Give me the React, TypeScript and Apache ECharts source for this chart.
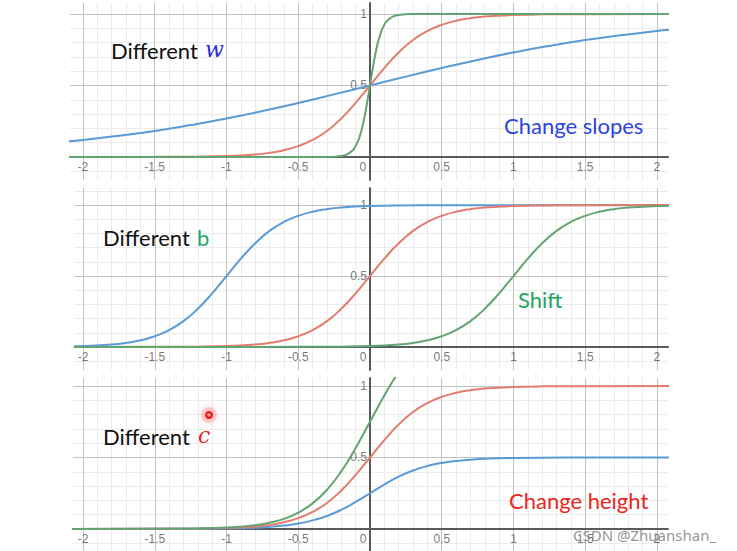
import { useEffect, useRef } from 'react';
import * as echarts from 'echarts';

// Axis tick labels
const xTickLabels = [-2, -1.5, -1, -0.5, 0, 0.5, 1, 1.5, 2];
const yTickLabels = [0.5, 1];
// Grid lines (major every 0.5, minor every 0.1)
const xMajor = [-2, -1.5, -1, -0.5, 0.5, 1, 1.5, 2];
const yMajor = [0.5, 1];
const xMinor = [-1.9, -1.8, -1.7, -1.6, -1.4, -1.3, -1.2, -1.1, -0.9, -0.8, -0.7, -0.6, -0.4, -0.3, -0.2, -0.1,
  0.1, 0.2, 0.3, 0.4, 0.6, 0.7, 0.8, 0.9, 1.1, 1.2, 1.3, 1.4, 1.6, 1.7, 1.8, 1.9];
const yMinor = [-0.1, 0.1, 0.2, 0.3, 0.4, 0.6, 0.7, 0.8, 0.9, 1.1];

// Panel 1: different w
const p1Blue: [number, number][] = [[-2.1, 0.109], [-2, 0.119], [-1.75, 0.148], [-1.5, 0.182], [-1.25, 0.223], [-1, 0.269], [-0.75, 0.321], [-0.5, 0.378], [-0.25, 0.438], [0, 0.5], [0.25, 0.562], [0.5, 0.622], [0.75, 0.679], [1, 0.731], [1.25, 0.777], [1.5, 0.818], [1.75, 0.852], [2, 0.881], [2.1, 0.891]];
const p1Red: [number, number][] = [[-2.1, 0], [-1.5, 0.001], [-1.2, 0.0025], [-1, 0.0067], [-0.8, 0.018], [-0.7, 0.029], [-0.6, 0.047], [-0.5, 0.076], [-0.4, 0.119], [-0.3, 0.182], [-0.2, 0.269], [-0.1, 0.378], [0, 0.5], [0.1, 0.622], [0.2, 0.731], [0.3, 0.818], [0.4, 0.881], [0.5, 0.924], [0.6, 0.953], [0.7, 0.971], [0.8, 0.982], [1, 0.993], [1.2, 0.9975], [1.5, 0.999], [2.1, 1]];
const p1Green: [number, number][] = [[-2.1, 0], [-0.4, 0], [-0.3, 0.0006], [-0.24, 0.0025], [-0.2, 0.0067], [-0.16, 0.018], [-0.12, 0.047], [-0.1, 0.076], [-0.08, 0.119], [-0.06, 0.182], [-0.04, 0.269], [-0.02, 0.378], [0, 0.5], [0.02, 0.622], [0.04, 0.731], [0.06, 0.818], [0.08, 0.881], [0.1, 0.924], [0.12, 0.953], [0.16, 0.982], [0.2, 0.993], [0.24, 0.9975], [0.3, 0.9994], [0.4, 1], [2.1, 1]];

// Panel 2: different b
const p2Blue: [number, number][] = [[-2.1, 0.004], [-2, 0.0067], [-1.8, 0.018], [-1.7, 0.029], [-1.6, 0.047], [-1.5, 0.076], [-1.4, 0.119], [-1.3, 0.182], [-1.2, 0.269], [-1.1, 0.378], [-1, 0.5], [-0.9, 0.622], [-0.8, 0.731], [-0.7, 0.818], [-0.6, 0.881], [-0.5, 0.924], [-0.4, 0.953], [-0.3, 0.971], [-0.2, 0.982], [0, 0.993], [0.2, 0.9975], [0.5, 0.999], [2.1, 1]];
const p2Red: [number, number][] = [[-2.1, 0], [-1.5, 0.001], [-1.2, 0.0025], [-1, 0.0067], [-0.8, 0.018], [-0.7, 0.029], [-0.6, 0.047], [-0.5, 0.076], [-0.4, 0.119], [-0.3, 0.182], [-0.2, 0.269], [-0.1, 0.378], [0, 0.5], [0.1, 0.622], [0.2, 0.731], [0.3, 0.818], [0.4, 0.881], [0.5, 0.924], [0.6, 0.953], [0.7, 0.971], [0.8, 0.982], [1, 0.993], [1.2, 0.9975], [1.5, 0.999], [2.1, 1]];
const p2Green: [number, number][] = [[-2.1, 0], [-0.5, 0.001], [-0.2, 0.0025], [0, 0.0067], [0.2, 0.018], [0.3, 0.029], [0.4, 0.047], [0.5, 0.076], [0.6, 0.119], [0.7, 0.182], [0.8, 0.269], [0.9, 0.378], [1, 0.5], [1.1, 0.622], [1.2, 0.731], [1.3, 0.818], [1.4, 0.881], [1.5, 0.924], [1.6, 0.953], [1.7, 0.971], [1.8, 0.982], [2, 0.993], [2.1, 0.996]];

// Panel 3: different c
const p3Blue: [number, number][] = [[-2.1, 0], [-1.2, 0.001], [-1, 0.0034], [-0.8, 0.009], [-0.7, 0.015], [-0.6, 0.024], [-0.5, 0.038], [-0.4, 0.06], [-0.3, 0.091], [-0.2, 0.134], [-0.1, 0.189], [0, 0.25], [0.1, 0.311], [0.2, 0.366], [0.3, 0.409], [0.4, 0.44], [0.5, 0.462], [0.6, 0.476], [0.7, 0.485], [0.8, 0.491], [1, 0.4966], [1.2, 0.499], [1.5, 0.4995], [2.1, 0.5]];
const p3Red: [number, number][] = [[-2.1, 0], [-1.5, 0.001], [-1.2, 0.0025], [-1, 0.0067], [-0.8, 0.018], [-0.7, 0.029], [-0.6, 0.047], [-0.5, 0.076], [-0.4, 0.119], [-0.3, 0.182], [-0.2, 0.269], [-0.1, 0.378], [0, 0.5], [0.1, 0.622], [0.2, 0.731], [0.3, 0.818], [0.4, 0.881], [0.5, 0.924], [0.6, 0.953], [0.7, 0.971], [0.8, 0.982], [1, 0.993], [1.2, 0.9975], [1.5, 0.999], [2.1, 1]];
const p3Green: [number, number][] = [[-2.1, 0], [-1.2, 0.004], [-1, 0.01], [-0.8, 0.027], [-0.7, 0.044], [-0.6, 0.071], [-0.5, 0.114], [-0.4, 0.179], [-0.3, 0.274], [-0.2, 0.403], [-0.1, 0.566], [0, 0.75], [0.1, 0.934], [0.2, 1.097], [0.3, 1.226]];

const BLUE = '#5b9bd5';
const RED = '#e27d6e';
const GREEN = '#62a472';

// Panel layout (pixels) and axis extents
const panels = [
  { left: 70, top: 3, width: 598, height: 177, xMin: -2.09, xMax: 2.077, yMin: -0.161, yMax: 1.077, curves: [p1Blue, p1Red, p1Green] },
  { left: 75, top: 188, width: 593, height: 182, xMin: -2.056, xMax: 2.077, yMin: -0.162, yMax: 1.12, curves: [p2Blue, p2Red, p2Green] },
  { left: 73, top: 378, width: 595, height: 173, xMin: -2.07, xMax: 2.077, yMin: -0.154, yMax: 1.056, curves: [p3Blue, p3Red, p3Green] },
];

export default function App() {
  const ref = useRef<HTMLDivElement>(null);
  useEffect(() => {
    if (!ref.current) return;
    const chart = echarts.init(ref.current, undefined, { renderer: 'svg' });
    const inside = (v: number, lo: number, hi: number) => v > lo + 0.015 && v < hi - 0.015;
    const labelStyle = { color: '#555', fontSize: 12, fontFamily: 'Liberation Sans, Arial, sans-serif' };
    const series: any[] = [];
    panels.forEach((p, i) => {
      const mk = (xs: number[], ys: number[], color: string) => ({
        type: 'line', xAxisIndex: i, yAxisIndex: i, data: [], silent: true, z: 1,
        markLine: {
          silent: true, symbol: ['none', 'none'], animation: false, z: 1,
          label: { show: false },
          emphasis: { disabled: true },
          lineStyle: { color, width: 1, type: 'solid' },
          data: [
            ...xs.filter((v) => inside(v, p.xMin, p.xMax)).map((v) => ({ xAxis: v })),
            ...ys.filter((v) => inside(v, p.yMin, p.yMax)).map((v) => ({ yAxis: v })),
          ],
        },
      });
      series.push(mk(xMinor, yMinor, '#ebebeb'));
      series.push(mk(xMajor, yMajor, '#c2c2c2'));
      // tick labels placed on the axes through the panel's scales
      series.push({
        type: 'scatter', xAxisIndex: i, yAxisIndex: i, symbolSize: 0, silent: true, z: 2,
        data: xTickLabels.map((v) => ({ value: [v, 0], label: v === 0 ? { offset: [-7, 0] } : {} })),
        label: { show: true, position: 'bottom', distance: 4, ...labelStyle, formatter: (d: any) => String(d.value[0]) },
      });
      series.push({
        type: 'scatter', xAxisIndex: i, yAxisIndex: i, symbolSize: 0, silent: true, z: 2,
        data: yTickLabels.map((v) => [0, v]),
        label: { show: true, position: 'left', distance: 3, ...labelStyle, formatter: (d: any) => String(d.value[1]) },
      });
      [BLUE, RED, GREEN].forEach((c, k) => {
        series.push({
          type: 'line', xAxisIndex: i, yAxisIndex: i, data: p.curves[k], smooth: 0.5,
          showSymbol: false, symbol: 'none', silent: true, z: 3, clip: true,
          lineStyle: { color: c, width: 2 },
        });
      });
    });
    const textBase = { fontFamily: 'Lato, sans-serif', fontSize: 22, verticalAlign: 'middle', align: 'left' };
    chart.setOption({
      animation: false,
      backgroundColor: '#ffffff',
      grid: panels.map((p) => ({ left: p.left, top: p.top, width: p.width, height: p.height })),
      xAxis: panels.map((p, i) => ({
        type: 'value', gridIndex: i, min: p.xMin, max: p.xMax, z: 2,
        axisLine: { onZero: true, lineStyle: { color: '#5a5a5a', width: 2 } },
        axisTick: { show: false },
        splitLine: { show: false },
        axisLabel: { show: false },
      })),
      yAxis: panels.map((p, i) => ({
        type: 'value', gridIndex: i, min: p.yMin, max: p.yMax, z: 2,
        axisLine: { onZero: true, lineStyle: { color: '#5a5a5a', width: 2 } },
        axisTick: { show: false },
        splitLine: { show: false },
        axisLabel: { show: false },
      })),
      series,
      graphic: [
        { type: 'text', x: 111, y: 50, z: 10, style: { ...textBase, text: 'Different', fill: '#111' } },
        { type: 'text', x: 205, y: 49, z: 10, style: { ...textBase, fontFamily: 'DejaVu Serif, serif', fontStyle: 'italic', fontSize: 22, text: 'w', fill: '#2a2fd0' } },
        { type: 'text', x: 504, y: 125, z: 10, style: { ...textBase, text: 'Change slopes', fill: '#2b45dc' } },
        { type: 'text', x: 103, y: 237, z: 10, style: { ...textBase, text: 'Different', fill: '#111' } },
        { type: 'text', x: 197, y: 237, z: 10, style: { ...textBase, text: 'b', fill: '#1ea866' } },
        { type: 'text', x: 518, y: 299, z: 10, style: { ...textBase, text: 'Shift', fill: '#24a263' } },
        { type: 'text', x: 103, y: 436, z: 10, style: { ...textBase, text: 'Different', fill: '#111' } },
        { type: 'text', x: 198, y: 435, z: 10, style: { ...textBase, fontFamily: 'DejaVu Serif, serif', fontStyle: 'italic', fontSize: 22, text: 'c', fill: '#e8241b' } },
        { type: 'text', x: 509, y: 500, z: 10, style: { ...textBase, text: 'Change height', fill: '#e8261c' } },
        { type: 'circle', z: 10, shape: { cx: 209, cy: 415, r: 8 }, style: { fill: 'rgba(255,70,70,0.22)', shadowBlur: 8, shadowColor: 'rgba(255,0,0,0.5)' } },
        { type: 'circle', z: 11, shape: { cx: 209, cy: 415, r: 4 }, style: { fill: '#ee1c1c' } },
        { type: 'circle', z: 12, shape: { cx: 209, cy: 415, r: 1.6 }, style: { fill: '#ffb0b0' } },
        { type: 'text', x: 573, y: 535, z: 10, style: { text: 'CSDN @Zhuanshan_', fontFamily: 'Noto Sans, sans-serif', fontSize: 15, fill: 'rgba(130,130,130,0.85)', verticalAlign: 'middle', align: 'left' } },
      ],
    });
    return () => chart.dispose();
  }, []);
  return <div ref={ref} style={{ position: 'fixed', left: 0, top: 0, width: 737, height: 551, background: '#fff' }} />;
}
